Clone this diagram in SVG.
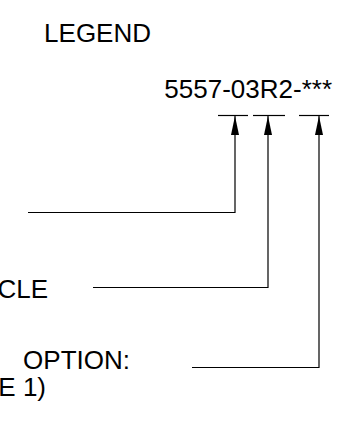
<svg xmlns="http://www.w3.org/2000/svg" width="359" height="442" viewBox="0 0 359 442">
<defs>
<style>
text{font-family:"Liberation Sans",Arial,sans-serif;font-size:26px;fill:#000}
.ln{stroke:#000;stroke-width:1.2;fill:none}
.tick{stroke:#000;stroke-width:1.2}
.ah{fill:#000}
</style>
<marker id="arr" viewBox="0 0 19 9" refX="19" refY="4.5" markerWidth="19" markerHeight="9" markerUnits="userSpaceOnUse" orient="auto">
<path d="M19 4.5 L0 8.5 L0 0.5 Z" class="ah"/>
</marker>
</defs>
<rect width="359" height="442" fill="#fff"/>
<g id="title"><text x="151" y="42" text-anchor="end">LEGEND</text></g>
<g id="part-number">
<text x="332" y="98" text-anchor="end">5557-03R2-***</text>
<line class="tick" x1="218" y1="115.5" x2="248" y2="115.5"/>
<line class="tick" x1="253" y1="115.5" x2="285" y2="115.5"/>
<line class="tick" x1="299" y1="115.5" x2="329" y2="115.5"/>
</g>
<g id="label-1"><text x="48" y="298" text-anchor="end">CLE</text></g>
<g id="label-2"><text x="130" y="369" text-anchor="end">OPTION:</text><text x="46" y="396" text-anchor="end">E 1)</text></g>
<g id="connectors">
<polyline class="ln" points="28,212.5 235,212.5 235,116" marker-end="url(#arr)"/>
<polyline class="ln" points="93,287.5 268,287.5 268,116" marker-end="url(#arr)"/>
<polyline class="ln" points="192,367.5 319,367.5 319,116" marker-end="url(#arr)"/>
</g>
</svg>
